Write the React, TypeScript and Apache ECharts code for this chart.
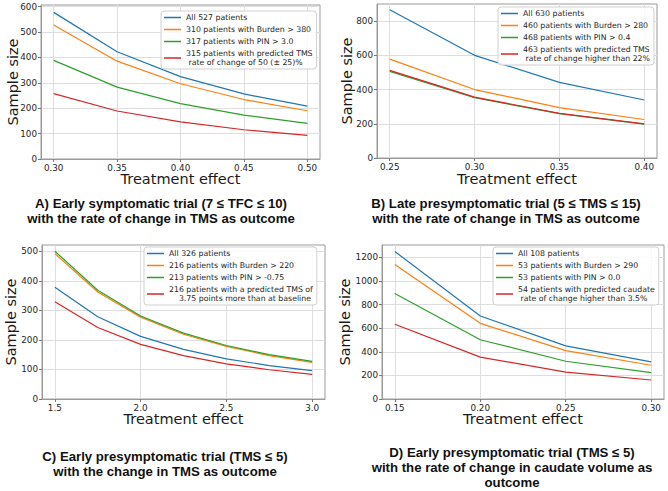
import React, { useEffect, useRef } from 'react';
import * as echarts from 'echarts';

// ---------- Data ----------
const xA = [0.30, 0.35, 0.40, 0.45, 0.50];
const allA = [577, 422, 324, 256, 208];
const burdenA = [527, 385, 296, 234, 190];
const pinA = [388, 283, 218, 173, 140];
const predA = [257, 189, 146, 115, 93];
const namesA = ['All 527 patients', '310 patients with Burden > 380', '317 patients with PIN > 3.0', '315 patients with predicted TMS\n rate of change of 50 (± 25)%'];
const yTicksA = [0, 100, 200, 300, 400, 500, 600];

const xB = [0.25, 0.30, 0.35, 0.40];
const allB = [866, 600, 442, 339];
const burdenB = [578, 400, 294, 225];
const pinB = [506, 352, 259, 198];
const predB = [512, 356, 261, 199];
const namesB = ['All 630 patients', '460 patients with Burden > 280', '468 patients with PIN > 0.4', '463 patients with predicted TMS\n rate of change higher than 22%'];
const yTicksB = [0, 200, 400, 600, 800];

const xC = [1.5, 1.75, 2.0, 2.25, 2.5, 2.75, 3.0];
const allC = [378, 278, 212, 168, 136, 113, 96];
const burdenC = [492, 362, 277, 219, 178, 147, 124];
const pinC = [500, 368, 281, 223, 181, 150, 127];
const predC = [329, 242, 185, 147, 119, 99, 83];
const namesC = ['All 326 patients', '216 patients with Burden > 220', '213 patients with PIN > -0.75', '216 patients with a predicted TMS of\n    3.75 points more than at baseline'];
const xTicksC = [1.5, 2.0, 2.5, 3.0];
const yTicksC = [0, 100, 200, 300, 400, 500];

const xD = [0.15, 0.20, 0.25, 0.30];
const allD = [1250, 703, 450, 314];
const burdenD = [1140, 641, 410, 286];
const pinD = [894, 502, 320, 224];
const predD = [633, 355, 228, 161];
const namesD = ['All 108 patients', '53 patients with Burden > 290', '53 patients with PIN > 0.0', '54 patients with predicted caudate\n rate of change higher than 3.5%'];
const yTicksD = [0, 200, 400, 600, 800, 1000, 1200];

const captionA = 'A) Early symptomatic trial (7 ≤ TFC ≤ 10)\nwith the rate of change in TMS as outcome';
const captionB = 'B) Late presymptomatic trial (5 ≤ TMS ≤ 15)\nwith the rate of change in TMS as outcome';
const captionC = 'C) Early presymptomatic trial (TMS ≤ 5)\nwith the change in TMS as outcome';
const captionD = 'D) Early presymptomatic trial (TMS ≤ 5)\nwith the rate of change in caudate volume as\noutcome';

const COLORS = ['#1f77b4', '#ff7f0e', '#2ca02c', '#d62728'];
const FONT = "'DejaVu Sans', sans-serif";
const CAPFONT = "'Liberation Sans Narrow', 'Liberation Sans', Arial, sans-serif";

type Panel = {
  grid: { left: number; top: number; width: number; height: number };
  xs: number[];
  xTicks: number[];
  xMin: number;
  xMax: number;
  xDec: number;
  yMax: number;
  yTicks: number[];
  values: number[][];
  names: string[];
  legend: { left: number; top: number };
  yNameGap: number;
  xNameGap: number;
  caption: string;
  capX: number;
  capY: number;
};

const panels: Panel[] = [
  {
    grid: { left: 41, top: 5, width: 279, height: 154 },
    xs: xA, xTicks: xA, xMin: 0.29, xMax: 0.51, xDec: 2,
    yMax: 606, yTicks: yTicksA,
    values: [allA, burdenA, pinA, predA], names: namesA,
    legend: { left: 161, top: 11 }, yNameGap: 20.5, xNameGap: 12.5,
    caption: captionA, capX: 161, capY: 196,
  },
  {
    grid: { left: 377, top: 4, width: 280, height: 154 },
    xs: xB, xTicks: xB, xMin: 0.2425, xMax: 0.4075, xDec: 2,
    yMax: 900, yTicks: yTicksB,
    values: [allB, burdenB, pinB, predB], names: namesB,
    legend: { left: 498, top: 7 }, yNameGap: 22.5, xNameGap: 13.5,
    caption: captionB, capX: 506, capY: 196,
  },
  {
    grid: { left: 42, top: 245, width: 283, height: 154 },
    xs: xC, xTicks: xTicksC, xMin: 1.425, xMax: 3.075, xDec: 1,
    yMax: 521, yTicks: yTicksC,
    values: [allC, burdenC, pinC, predC], names: namesC,
    legend: { left: 144, top: 247 }, yNameGap: 23.5, xNameGap: 12.5,
    caption: captionC, capX: 165, capY: 449,
  },
  {
    grid: { left: 382, top: 245, width: 282, height: 154 },
    xs: xD, xTicks: xD, xMin: 0.1425, xMax: 0.3075, xDec: 2,
    yMax: 1305, yTicks: yTicksD,
    values: [allD, burdenD, pinD, predD], names: namesD,
    legend: { left: 493, top: 247 }, yNameGap: 29.5, xNameGap: 12.5,
    caption: captionD, capX: 512, capY: 445,
  },
];

function buildOption() {
  const grid: any[] = [];
  const xAxis: any[] = [];
  const yAxis: any[] = [];
  const series: any[] = [];
  const legend: any[] = [];
  const graphic: any[] = [];

  panels.forEach((p, i) => {
    grid.push({
      ...p.grid,
      show: true,
      borderColor: '#9a9a9a',
      borderWidth: 1,
      backgroundColor: 'transparent',
      containLabel: false,
    });
    xAxis.push({
      type: 'value',
      gridIndex: i,
      min: p.xMin,
      max: p.xMax,
      name: 'Treatment effect',
      nameLocation: 'middle',
      nameGap: p.xNameGap,
      nameMoveOverlap: false,
      nameTextStyle: { fontFamily: FONT, fontSize: 14.5, color: '#1a1a1a' },
      axisLine: { show: true, lineStyle: { color: '#9a9a9a', width: 1 } },
      axisTick: { show: true, length: 3, lineStyle: { color: '#777' }, customValues: p.xTicks },
      axisLabel: {
        customValues: p.xTicks,
        formatter: (v: number) => v.toFixed(p.xDec),
        fontFamily: FONT, fontSize: 8.8, color: '#262626', margin: 4,
      },
      splitLine: { show: true, lineStyle: { color: '#dedede', width: 1 } },
    });
    yAxis.push({
      type: 'value',
      gridIndex: i,
      min: 0,
      max: p.yMax,
      name: 'Sample size',
      nameLocation: 'middle',
      nameGap: p.yNameGap,
      nameRotate: 90,
      nameMoveOverlap: false,
      nameTextStyle: { fontFamily: FONT, fontSize: 14.5, color: '#1a1a1a' },
      axisLine: { show: true, lineStyle: { color: '#9a9a9a', width: 1 } },
      axisTick: { show: true, length: 3, lineStyle: { color: '#777' }, customValues: p.yTicks },
      axisLabel: {
        customValues: p.yTicks,
        formatter: (v: number) => String(Math.round(v)),
        fontFamily: FONT, fontSize: 8.8, color: '#262626', margin: 4,
      },
      splitLine: { show: true, lineStyle: { color: '#dedede', width: 1 } },
    });
    p.values.forEach((vals, k) => {
      series.push({
        type: 'line',
        name: p.names[k],
        xAxisIndex: i,
        yAxisIndex: i,
        data: p.xs.map((x, j) => [x, vals[j]]),
        showSymbol: false,
        symbol: 'none',
        color: COLORS[k],
        lineStyle: { color: COLORS[k], width: 1.2 },
        z: 2 + k,
      });
    });
    legend.push({
      orient: 'vertical',
      left: p.legend.left,
      top: p.legend.top,
      data: p.names,
      icon: 'rect',
      itemWidth: 17,
      itemHeight: 1.5,
      itemGap: 3,
      padding: [2, 4, 2, 3],
      backgroundColor: 'rgba(255,255,255,0.85)',
      borderColor: '#d0d0d0',
      borderWidth: 1,
      borderRadius: 3,
      selectedMode: false,
      textStyle: { fontFamily: FONT, fontSize: 7.8, lineHeight: 9, color: '#262626' },
    });
    graphic.push({
      type: 'text',
      x: p.capX,
      y: p.capY,
      style: {
        text: p.caption,
        align: 'center',
        verticalAlign: 'top',
        fontFamily: CAPFONT,
        fontWeight: 'bold',
        fontSize: 13.2,
        lineHeight: 15,
        fill: '#111',
      },
    });
  });

  return {
    animation: false,
    backgroundColor: '#fff',
    grid, xAxis, yAxis, series, legend, graphic,
  };
}

export default function App() {
  const ref = useRef<HTMLDivElement>(null);
  useEffect(() => {
    if (!ref.current) return;
    const chart = echarts.init(ref.current, undefined, { renderer: 'svg' });
    chart.setOption(buildOption() as any);
    return () => chart.dispose();
  }, []);
  return (
    <div
      ref={ref}
      style={{ position: 'fixed', left: 0, top: 0, width: 668, height: 491, background: '#fff' }}
    />
  );
}
